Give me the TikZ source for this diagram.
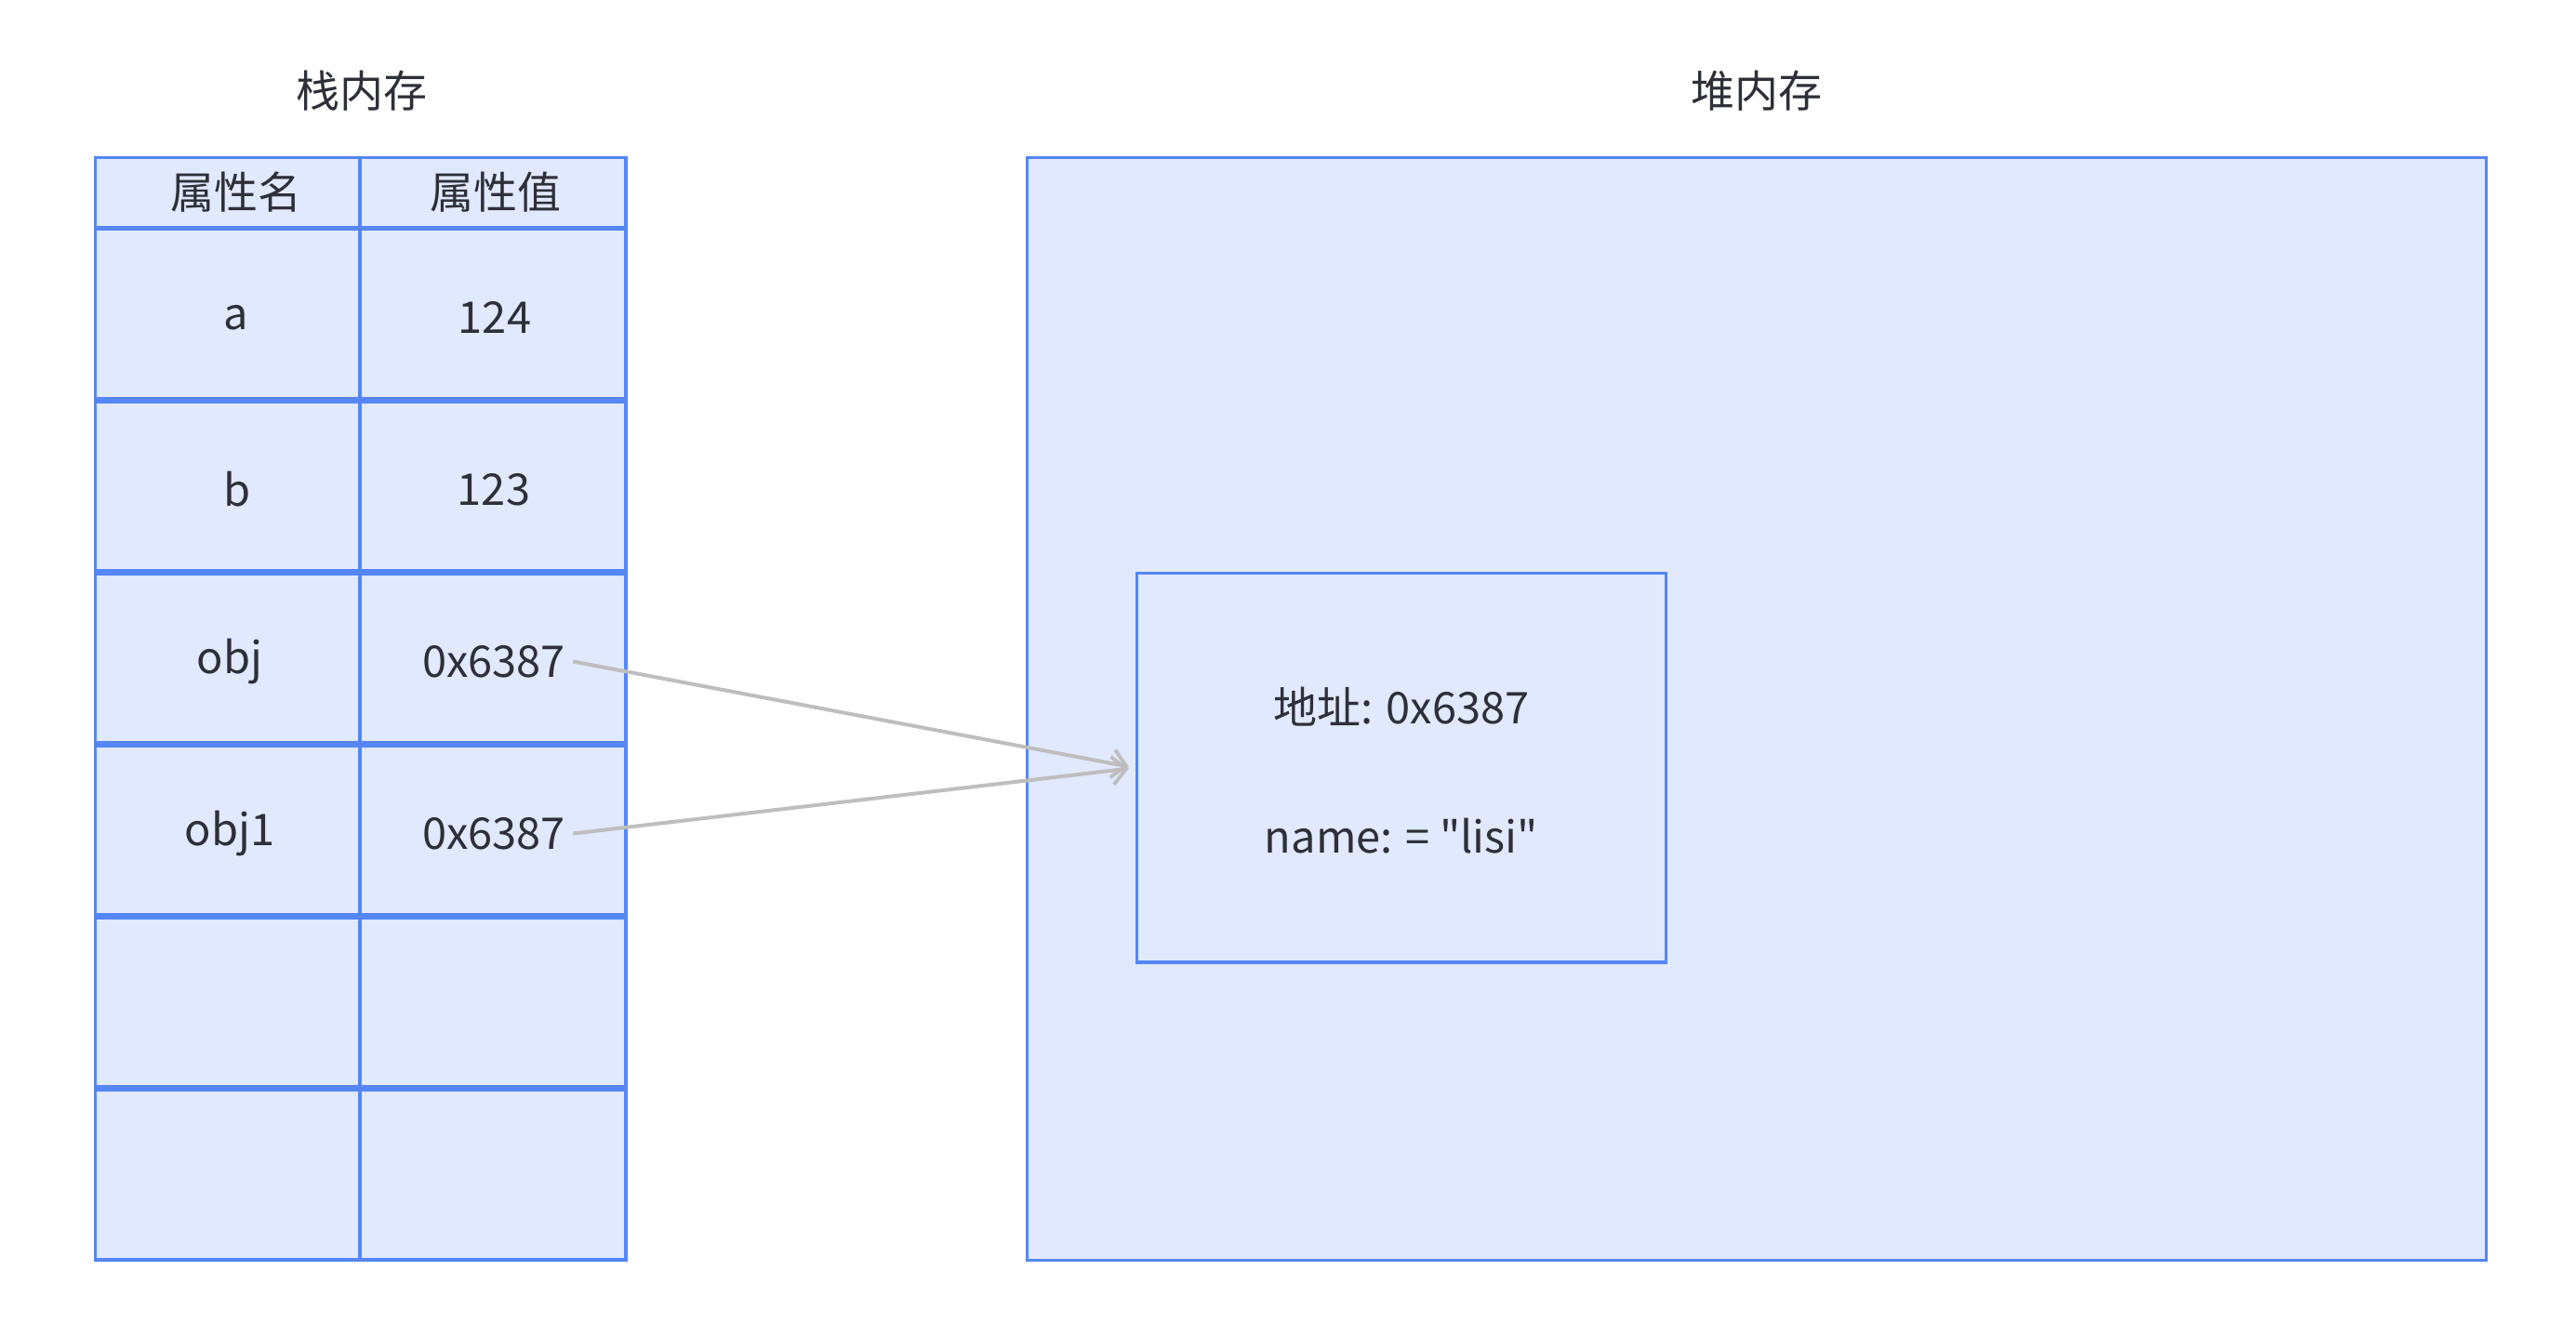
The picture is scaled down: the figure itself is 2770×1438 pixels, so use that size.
\documentclass[tikz,border=0pt]{standalone}
\usepackage{fontspec}
\setmainfont{Noto Sans CJK SC}
\newfontfamily\nomapfont{Noto Sans CJK SC}
\usetikzlibrary{arrows.meta}
\definecolor{cellfill}{RGB}{224,233,253}
\definecolor{cellline}{RGB}{84,134,245}
\definecolor{txt}{RGB}{45,48,56}
\definecolor{arrowgray}{RGB}{190,190,190}
\tikzset{
  px/.style={x=0.5pt,y=-0.5pt},
  cell/.style={draw=cellline,fill=cellfill,line width=1.6pt,rectangle,inner sep=0pt,outer sep=0pt,
    text=txt,font=\fontsize{23.5pt}{28pt}\selectfont},
  cola/.style={cell,minimum width=142.2pt},
  colb/.style={cell,minimum width=143.05pt},
  headrow/.style={minimum height=38pt},
  bodyrow/.style={minimum height=92.45pt},
  rowsep/.style={draw=cellline,line width=3.4pt},
  headsep/.style={draw=cellline,line width=2.6pt},
  celltext/.style={inner sep=4pt,text=txt,font=\fontsize{23.5pt}{28pt}\selectfont},
  title/.style={text=txt,font=\fontsize{23.5pt}{28pt}\selectfont},
  heapbox/.style={draw=cellline,fill=cellfill,line width=1.5pt,rectangle,inner sep=0pt},
  objbox/.style={draw=cellline,fill=cellfill,line width=1.8pt,rectangle,inner sep=0pt},
  ref/.style={draw=arrowgray,line width=2pt,-{Straight Barb[length=7.5pt,width=15pt,line width=1.9pt]},shorten >=3.5pt}
}
\begin{document}
\begin{tikzpicture}[px]
\useasboundingbox (0,0) rectangle (2770,1438);
% titles
\node[title] (stitle) at (388.7,97.2) {栈内存};
\node[title] (htitle) at (1888.5,97.2) {堆内存};
% heap
\node[heapbox,minimum width=784.5pt,minimum height=592.7pt] (heap) at (1888.5,762.3) {};
\node[objbox,minimum width=284.4pt,minimum height=209.35pt] (obj) at (1506.9,825.85) {};
\node[title] (addr) at (1507,759.6) {地址: 0x6387};
\node[title,font=\nomapfont\fontsize{23.5pt}{28pt}\selectfont] (nm) at (1507,899.2) {name: = "lisi"};
% stack table cells
\node[cola,headrow] (h1) at (244.7,207.6) {};
\node[colb,headrow] (h2) at (530,207.6) {};
\node[cola,bodyrow] (a1) at (244.7,338.05) {};
\node[colb,bodyrow] (a2) at (530,338.05) {};
\node[cola,bodyrow] (b1) at (244.7,522.95) {};
\node[colb,bodyrow] (b2) at (530,522.95) {};
\node[cola,bodyrow] (c1) at (244.7,707.85) {};
\node[colb,bodyrow] (c2) at (530,707.85) {};
\node[cola,bodyrow] (d1) at (244.7,892.75) {};
\node[colb,bodyrow] (d2) at (530,892.75) {};
\node[cola,bodyrow] (e1) at (244.7,1077.65) {};
\node[colb,bodyrow] (e2) at (530,1077.65) {};
\node[cola,bodyrow] (f1) at (244.7,1262.55) {};
\node[colb,bodyrow] (f2) at (530,1262.55) {};
% row separators
\draw[headsep] (h1.south west) -- (h2.south east);
\draw[rowsep] (a1.south west) -- (a2.south east);
\draw[rowsep] (b1.south west) -- (b2.south east);
\draw[rowsep] (c1.south west) -- (c2.south east);
\draw[rowsep] (d1.south west) -- (d2.south east);
\draw[rowsep] (e1.south west) -- (e2.south east);
% cell texts
\node[celltext] (t-h1) at (254,206.5) {属性名};
\node[celltext] (t-h2) at (533,206.5) {属性值};
\node[celltext] (t-a1) at (254,341.5) {a};
\node[celltext] (t-a2) at (532,341.5) {124};
\node[celltext] (t-b1) at (255,526.5) {b};
\node[celltext] (t-b2) at (531,526.5) {123};
\node[celltext] (t-c1) at (247,711.5) {obj};
\node[celltext] (t-c2) at (531,711.5) {0x6387};
\node[celltext] (t-d1) at (247,896.5) {obj1};
\node[celltext] (t-d2) at (531,896.5) {0x6387};
% references
\draw[ref] (t-c2.east) -- (obj.west);
\draw[ref] (t-d2.east) -- (obj.west);
\end{tikzpicture}
\end{document}
